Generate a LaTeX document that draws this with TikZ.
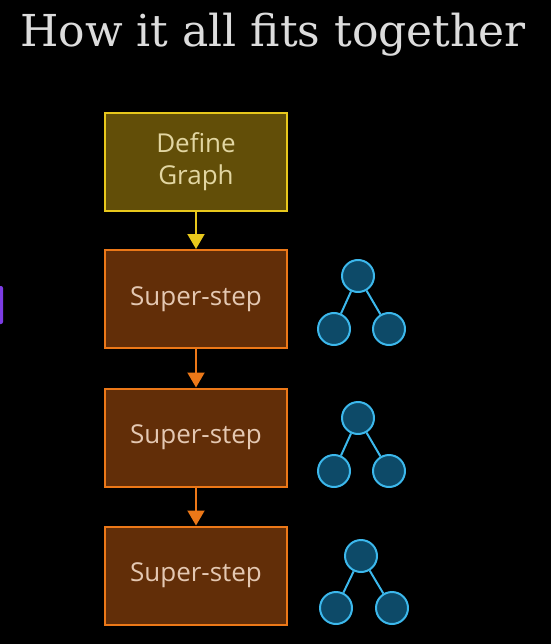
\documentclass[tikz,border=0pt]{standalone}
\usepackage{fontspec}
\setmainfont{Open Sans}
\newfontfamily\titlefont{DejaVu Serif}
\usetikzlibrary{arrows.meta}
\definecolor{bgc}{HTML}{000000}
\definecolor{defFill}{HTML}{624E08}
\definecolor{defLine}{HTML}{E8C81C}
\definecolor{defText}{HTML}{E2D6A2}
\definecolor{ssFill}{HTML}{622E08}
\definecolor{ssLine}{HTML}{EC7818}
\definecolor{ssText}{HTML}{E4C8B2}
\definecolor{trFill}{HTML}{0D4A68}
\definecolor{trLine}{HTML}{3CB8EC}
\definecolor{purp}{HTML}{7C3CE4}
\definecolor{titleC}{HTML}{DCDCDC}
\tikzset{
  x=1pt,y=-1pt,
  defbox/.style={draw=defLine,fill=defFill,line width=2pt,minimum width=182pt,minimum height=98pt,inner sep=0pt,text=defText,font=\fontsize{26}{32}\selectfont,align=center},
  ssbox/.style={draw=ssLine,fill=ssFill,line width=2pt,minimum width=182pt,minimum height=98pt,inner sep=0pt,text=ssText,font=\fontsize{26}{33}\selectfont},
  tnode/.style={circle,draw=trLine,fill=trFill,line width=2pt,minimum size=32pt,inner sep=0pt},
  tedge/.style={draw=trLine,line width=2pt},
  yarrow/.style={draw=defLine,line width=2pt,-{Triangle[length=15pt,width=17pt]}},
  oarrow/.style={draw=ssLine,line width=2pt,-{Triangle[length=15pt,width=17pt]}},
}
\begin{document}
\begin{tikzpicture}
\fill[bgc] (0,0) rectangle (551,644);
\useasboundingbox (0,0) rectangle (551,644);
\node[text=titleC,font=\titlefont\fontsize{44}{48}\selectfont,anchor=base] (title) at (273,47) {How it all fits together};
\fill[purp,rounded corners=2pt] (-6,286) rectangle (3,324);
\node[defbox] (def) at (196,162) {\raisebox{-3pt}{\begin{tabular}{@{}c@{}}Define\\Graph\end{tabular}}};
\node[ssbox] (s1) at (196,299) {\raisebox{-3pt}{Super-step}};
\node[ssbox] (s2) at (196,437.5) {\raisebox{-3pt}{Super-step}};
\node[ssbox] (s3) at (196,575.5) {\raisebox{-3pt}{Super-step}};
\draw[yarrow] (def.south) -- (s1.north);
\draw[oarrow] (s1.south) -- (s2.north);
\draw[oarrow] (s2.south) -- (s3.north);
% trees
\node[tnode] (a1) at (358,276) {};
\node[tnode] (b1) at (334,329) {};
\node[tnode] (c1) at (389,329) {};
\draw[tedge] (a1) -- (b1); \draw[tedge] (a1) -- (c1);
\node[tnode] (a2) at (358,418) {};
\node[tnode] (b2) at (334,471) {};
\node[tnode] (c2) at (389,471) {};
\draw[tedge] (a2) -- (b2); \draw[tedge] (a2) -- (c2);
\node[tnode] (a3) at (361,556) {};
\node[tnode] (b3) at (336,608) {};
\node[tnode] (c3) at (392,608) {};
\draw[tedge] (a3) -- (b3); \draw[tedge] (a3) -- (c3);
\end{tikzpicture}
\end{document}
